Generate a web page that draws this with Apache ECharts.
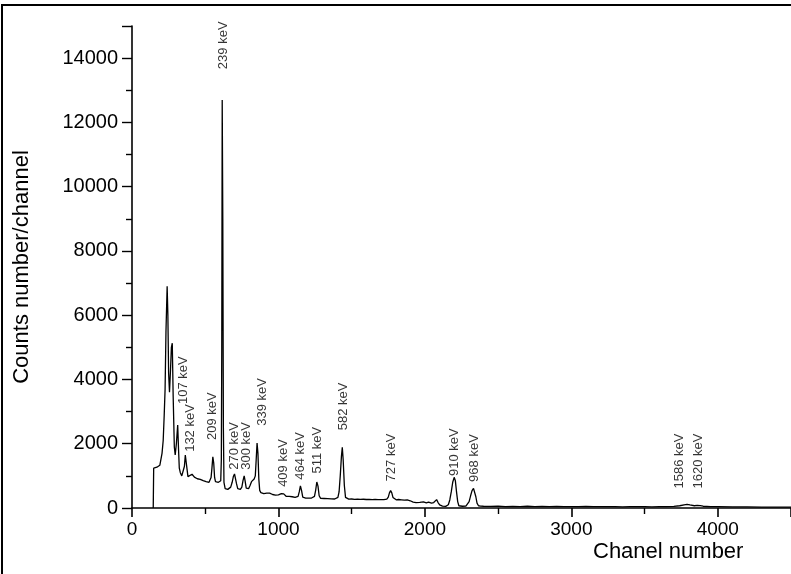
<!DOCTYPE html>
<html>
<head>
<meta charset="utf-8">
<script src="https://cdn.jsdelivr.net/npm/echarts@6/dist/echarts.min.js"></script>
<style>
  html, body { margin: 0; padding: 0; background: #fff; }
  #chart { width: 791px; height: 574px; }
</style>
</head>
<body>
<div id="chart"></div>
<script>
// Gamma spectrum: counts per channel vs. channel number
const spectrum = [
  [145, 0], [148, 1240], [170, 1270], [190, 1330], [205, 1700], [213, 2100],
  [220, 2900], [226, 3700], [232, 5500], [240, 6900], [245, 6000], [250, 4200],
  [256, 3600], [263, 4300], [269, 5000], [275, 5130], [281, 3500], [289, 1900],
  [295, 1650], [303, 2000], [312, 2580], [318, 1800], [323, 1240], [330, 1100],
  [340, 1000], [350, 1050], [358, 1300], [364, 1650], [370, 1600], [376, 1200],
  [382, 975], [395, 960], [410, 1050], [418, 1090], [426, 960], [436, 930],
  [446, 910], [456, 880], [466, 890], [476, 830], [486, 850], [496, 800],
  [506, 820], [516, 780], [526, 800], [534, 820], [540, 950], [546, 1250],
  [552, 1590], [558, 1400], [564, 950], [570, 820], [580, 790], [590, 800],
  [600, 810], [606, 850], [610, 1500], [613, 5000], [616, 12700], [620, 9000],
  [624, 2500], [628, 800], [636, 600], [644, 560], [654, 580], [664, 600],
  [674, 650], [684, 800], [692, 980], [700, 1060], [706, 1000], [714, 750],
  [722, 600], [730, 560], [740, 580], [750, 650], [758, 850], [766, 1000],
  [772, 850], [780, 620], [788, 580], [796, 600], [806, 700], [816, 820],
  [826, 870], [834, 900], [842, 1000], [848, 1500], [854, 2020], [860, 1700],
  [866, 900], [872, 550], [880, 480], [890, 470], [900, 450], [910, 480],
  [920, 460], [930, 430], [940, 460], [950, 440], [960, 420], [970, 440],
  [980, 400], [990, 420], [1000, 410], [1010, 400], [1020, 450], [1028, 490],
  [1036, 440], [1044, 380], [1054, 360], [1064, 350], [1074, 360], [1084, 340],
  [1094, 350], [1104, 340], [1114, 330], [1124, 340], [1134, 360], [1142, 500],
  [1150, 690], [1158, 540], [1166, 340], [1176, 320], [1186, 310], [1196, 320],
  [1206, 310], [1216, 300], [1226, 310], [1236, 300], [1246, 360], [1254, 550],
  [1262, 810], [1270, 680], [1278, 380], [1288, 300], [1300, 290], [1312, 295],
  [1324, 280], [1336, 290], [1348, 280], [1360, 285], [1372, 285], [1384, 280],
  [1396, 290], [1406, 330], [1414, 500], [1422, 1000], [1430, 1600], [1436, 1890],
  [1442, 1500], [1450, 700], [1458, 330], [1468, 285], [1480, 275], [1500, 280],
  [1520, 270], [1540, 275], [1560, 268], [1580, 272], [1600, 265], [1620, 270],
  [1640, 262], [1660, 268], [1680, 260], [1700, 258], [1720, 262], [1740, 275],
  [1750, 340], [1758, 470], [1766, 540], [1774, 470], [1782, 330], [1792, 270],
  [1804, 255], [1820, 265], [1840, 255], [1860, 245], [1880, 250], [1900, 225],
  [1920, 185], [1940, 170], [1965, 175], [1990, 190], [2010, 160], [2025, 180],
  [2033, 240], [2045, 150], [2060, 170], [2072, 200], [2080, 260], [2090, 170],
  [2101, 100], [2120, 60], [2142, 50], [2160, 100], [2170, 250], [2180, 500],
  [2190, 800], [2200, 955], [2208, 850], [2216, 500], [2224, 200], [2232, 70],
  [2244, 60], [2256, 55], [2268, 60], [2280, 60], [2292, 90], [2302, 200],
  [2312, 380], [2322, 540], [2332, 610], [2340, 560], [2348, 350], [2356, 150],
  [2366, 70], [2380, 60], [2400, 55], [2450, 50], [2500, 60], [2550, 45],
  [2600, 50], [2650, 45], [2700, 55], [2750, 45], [2800, 50], [2850, 40],
  [2900, 50], [2950, 45], [3000, 45], [3050, 40], [3100, 50], [3150, 40],
  [3200, 45], [3250, 40], [3300, 45], [3350, 35], [3400, 45], [3450, 40],
  [3500, 40], [3550, 35], [3600, 45], [3650, 40], [3700, 50], [3740, 70],
  [3770, 100], [3790, 115], [3810, 95], [3840, 70], [3860, 80], [3880, 75],
  [3900, 55], [3950, 40], [4000, 40], [4100, 35], [4200, 35], [4300, 30],
  [4400, 30], [4500, 30]
];

// Peak energy labels and where each label is centred (channel, counts)
const peakLabels = ['239 keV', '107 keV', '132 keV', '209 keV', '270 keV', '300 keV',
  '339 keV', '409 keV', '464 keV', '511 keV', '582 keV', '727 keV', '910 keV',
  '968 keV', '1586 keV', '1620 keV'];
const labelChannels = [621, 350, 400, 548, 698, 782, 892, 1037, 1151, 1267,
  1446, 1771, 2203, 2340, 3738, 3870];
const labelCounts = [14400, 3980, 2490, 2860, 1930, 1930, 3300, 1400, 1620, 1800,
  3160, 1570, 1740, 1555, 1460, 1460];

// Axis ranges and tick steps
const xRange = [0, 4500];
const xStep = 1000;
const yRange = [0, 15000];
const yStep = 2000;

const font = 'Liberation Sans, Arial, sans-serif';
const ink = '#000';
const plain = v => String(v);

const chart = echarts.init(document.getElementById('chart'), null, { renderer: 'canvas' });

chart.setOption({
  animation: false,
  backgroundColor: '#fff',
  grid: { left: 132, top: 26, right: 0, bottom: 66, containLabel: false },
  xAxis: {
    type: 'value',
    min: xRange[0], max: xRange[1], interval: xStep,
    axisLine: { show: true, onZero: false, lineStyle: { color: ink, width: 1.6 } },
    axisTick: { show: true, inside: false, length: 9, lineStyle: { color: ink, width: 1.6 } },
    minorTick: { show: true, splitNumber: 2, length: 6, lineStyle: { color: ink, width: 1.4 } },
    splitLine: { show: false },
    axisLabel: { show: true, showMaxLabel: false, margin: 12, color: ink, fontSize: 19,
      fontFamily: font, formatter: plain }
  },
  yAxis: {
    type: 'value',
    min: yRange[0], max: yRange[1], interval: yStep,
    name: 'Counts number/channel',
    nameLocation: 'middle',
    nameGap: 99,
    nameTextStyle: { color: ink, fontSize: 22, fontFamily: font },
    axisLine: { show: true, lineStyle: { color: ink, width: 1.6 } },
    axisTick: { show: true, inside: false, length: 10, lineStyle: { color: ink, width: 1.4 } },
    minorTick: { show: true, splitNumber: 2, length: 6, lineStyle: { color: ink, width: 1.4 } },
    splitLine: { show: false },
    axisLabel: { show: true, showMaxLabel: false, margin: 14, color: ink, fontSize: 20,
      fontFamily: font, formatter: plain }
  },
  graphic: [
    {
      type: 'rect',
      shape: { x: 2, y: 5, width: 900, height: 700 },
      style: { fill: 'none', stroke: '#000', lineWidth: 2 },
      silent: true
    },
    {
      type: 'text',
      left: 593,
      top: 541,
      style: { text: 'Chanel number', fill: ink, fontSize: 22, fontFamily: font }
    }
  ],
  series: [
    {
      type: 'line',
      data: spectrum,
      showSymbol: false,
      symbol: 'none',
      lineStyle: { color: ink, width: 1.3 },
      z: 3
    },
    {
      type: 'scatter',
      symbolSize: 0,
      data: labelChannels.map((c, i) => [c, labelCounts[i], peakLabels[i]]),
      label: {
        show: true,
        position: 'inside',
        rotate: 90,
        align: 'center',
        verticalAlign: 'middle',
        formatter: p => p.data[2],
        color: ink,
        fontSize: 13,
        fontFamily: font
      },
      z: 4
    }
  ]
});
</script>
</body>
</html>
